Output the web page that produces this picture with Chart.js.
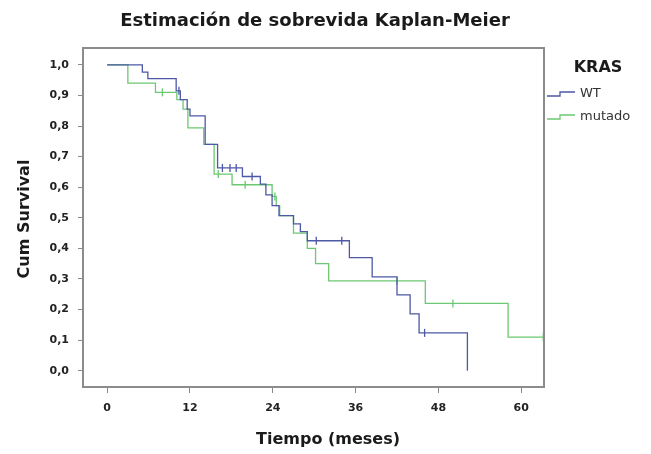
<!DOCTYPE html>
<html>
<head>
<meta charset="utf-8">
<script src="https://cdn.jsdelivr.net/npm/chart.js@4.4.0/dist/chart.umd.min.js"></script>
<style>
  html, body { margin: 0; padding: 0; background: #fff; }
  canvas { display: block; }
</style>
</head>
<body>
<canvas id="km" width="651" height="454"></canvas>
<script>
// --- datos (meses, supervivencia acumulada) ---
const wtTimes = [0, 5.1, 5.9, 10.0, 10.6, 11.6, 12.0, 14.2, 16.0, 19.6, 22.2, 23.0, 23.9, 24.9, 27.0, 28.0, 29.0, 35.1, 38.4, 42.0, 43.9, 45.2, 52.2];
const wtSurv = [1.0, 0.976, 0.955, 0.915, 0.886, 0.855, 0.833, 0.74, 0.663, 0.635, 0.61, 0.575, 0.54, 0.507, 0.48, 0.455, 0.425, 0.37, 0.307, 0.248, 0.186, 0.124, 0.0];
const wtCensored = [10.4, 16.7, 17.8, 18.7, 21.0, 30.3, 34.0, 46.0];

const mutTimes = [0, 3.0, 7.0, 10.1, 11.0, 11.7, 14.0, 15.5, 18.1, 23.9, 24.5, 25.0, 27.0, 29.0, 30.2, 32.1, 46.1, 58.1, 63.3];
const mutSurv = [1.0, 0.94, 0.91, 0.886, 0.855, 0.794, 0.74, 0.643, 0.608, 0.57, 0.54, 0.507, 0.45, 0.40, 0.35, 0.294, 0.22, 0.11, 0.11];
const mutCensored = [8.0, 16.1, 20.0, 24.3, 42.0, 50.1, 63.2];

const groupLabels = ['WT', 'mutado'];
const xTickValues = [0, 12, 24, 36, 48, 60];
const yTickValues = [0, 0.1, 0.2, 0.3, 0.4, 0.5, 0.6, 0.7, 0.8, 0.9, 1.0];

const BLUE = '#4d58a6';
const GREEN = '#6cc872';
const FONT = '"DejaVu Sans", sans-serif';

// valor de la curva escalonada en el tiempo t (para ubicar las marcas de censura)
function survAt(times, surv, t) {
    let s = surv[0];
    for (let i = 0; i < times.length; i++) {
        if (times[i] <= t) s = surv[i];
    }
    return s;
}

const toPoints = (xs, ys) => xs.map((x, i) => ({ x, y: ys[i] }));
const censorPoints = (cs, xs, ys) => cs.map(t => ({ x: t, y: survAt(xs, ys, t) }));

function curve(label, data, color) {
    return {
        label, data,
        borderColor: color, borderWidth: 1.3,
        stepped: 'before', pointRadius: 0, fill: false
    };
}

function censors(label, data, color) {
    return {
        label, data, showLine: false,
        pointStyle: 'line', pointRotation: 90, pointRadius: 4,
        pointBorderColor: color, pointBackgroundColor: color, pointBorderWidth: 1.3
    };
}

// título, marco y leyenda dibujados a mano (posición SPSS)
const decorations = {
    id: 'decorations',
    afterDraw(chart) {
        const ctx = chart.ctx;
        const a = chart.chartArea;
        ctx.save();

        ctx.strokeStyle = '#8c8c8c';
        ctx.lineWidth = 2;
        ctx.strokeRect(a.left, a.top, a.right - a.left, a.bottom - a.top);

        ctx.fillStyle = '#1a1a1a';
        ctx.textAlign = 'center';
        ctx.textBaseline = 'middle';
        ctx.font = 'bold 18px ' + FONT;
        ctx.fillText('Estimación de sobrevida Kaplan-Meier', 315, 21);

        ctx.font = 'bold 16px ' + FONT;
        ctx.fillText('Tiempo (meses)', 328, 440);

        ctx.save();
        ctx.translate(25, 219);
        ctx.rotate(-Math.PI / 2);
        ctx.fillText('Cum Survival', 0, 0);
        ctx.restore();

        // leyenda
        ctx.font = 'bold 16px ' + FONT;
        ctx.fillText('KRAS', 598, 68);

        ctx.textAlign = 'left';
        ctx.font = '13px ' + FONT;
        const rows = [[groupLabels[0], BLUE, 94], [groupLabels[1], GREEN, 117]];
        rows.forEach(([txt, col, y]) => {
            ctx.strokeStyle = col;
            ctx.lineWidth = 1.3;
            ctx.beginPath();
            ctx.moveTo(547, y + 2);
            ctx.lineTo(560, y + 2);
            ctx.lineTo(560, y - 2);
            ctx.lineTo(575, y - 2);
            ctx.stroke();
            ctx.fillStyle = '#333';
            ctx.fillText(txt, 580, y);
        });

        ctx.restore();
    }
};

Chart.defaults.font.family = FONT;

new Chart(document.getElementById('km'), {
    type: 'line',
    data: {
        datasets: [
            curve(groupLabels[0], toPoints(wtTimes, wtSurv), BLUE),
            censors(groupLabels[0] + ' censurado', censorPoints(wtCensored, wtTimes, wtSurv), BLUE),
            curve(groupLabels[1], toPoints(mutTimes, mutSurv), GREEN),
            censors(groupLabels[1] + ' censurado', censorPoints(mutCensored, mutTimes, mutSurv), GREEN)
        ]
    },
    options: {
        responsive: false,
        animation: false,
        devicePixelRatio: 1,
        layout: { padding: { top: 48, right: 107, left: 0, bottom: 0 } },
        plugins: { legend: { display: false }, tooltip: { enabled: false } },
        scales: {
            x: {
                type: 'linear', min: -3.5, max: 63.3,
                afterBuildTicks: s => { s.ticks = xTickValues.map(v => ({ value: v })); },
                afterFit: s => { s.height = 67; },
                border: { display: false },
                grid: { drawOnChartArea: false, tickLength: 6, color: '#8a8a8a' },
                ticks: { color: '#222', padding: 9, font: { size: 11, weight: 'bold' } }
            },
            y: {
                type: 'linear', min: -0.053, max: 1.055,
                afterBuildTicks: s => { s.ticks = yTickValues.map(v => ({ value: v })); },
                afterFit: s => { s.width = 83; },
                border: { display: false },
                grid: { drawOnChartArea: false, tickLength: 5, color: '#8a8a8a' },
                ticks: {
                    color: '#222', padding: 9, font: { size: 11, weight: 'bold' },
                    callback: v => v.toFixed(1).replace('.', ',')
                }
            }
        }
    },
    plugins: [decorations]
});
</script>
</body>
</html>
